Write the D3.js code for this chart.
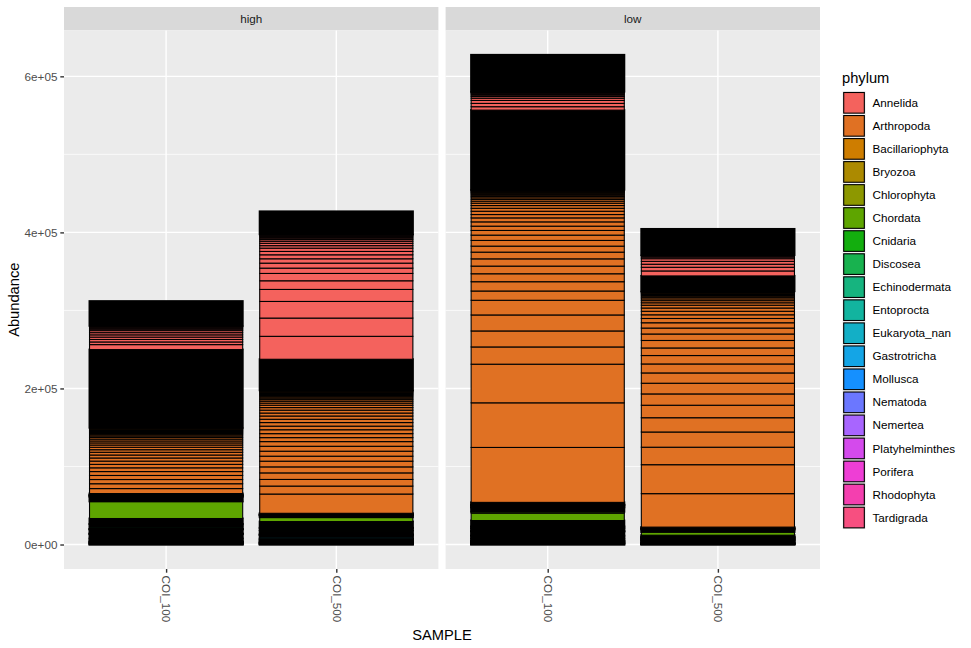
<!DOCTYPE html>
<html><head><meta charset="utf-8">
<script src="https://cdn.jsdelivr.net/npm/d3@7"></script>
<style>body{margin:0;background:#fff} text{font-family:"Liberation Sans",Arial,Helvetica,sans-serif}</style>
</head><body><svg id="c" width="971" height="648"></svg>
<script>
// ---------------- data ----------------
const phyla = ["Annelida","Arthropoda","Bacillariophyta","Bryozoa","Chlorophyta","Chordata","Cnidaria","Discosea","Echinodermata","Entoprocta","Eukaryota_nan","Gastrotricha","Mollusca","Nematoda","Nemertea","Platyhelminthes","Porifera","Rhodophyta","Tardigrada"];
const phylumColors = ["#F4625D","#E07123","#CE7D00","#AC8A00","#8D9800","#5EA500","#13AE0E","#18B24F","#16B47F","#12B49F","#13AFC6","#14A5E6","#1590FF","#6B77FF","#A865FF","#D44AEC","#EE3ED5","#F43FAF","#F74F80"];
const facets = ["high","low"];
const samples = ["COI_100","COI_500"];
const yTicks = [0, 200000, 400000, 600000];
const yTickLabels = ["0e+00","2e+05","4e+05","6e+05"];
const yMinorTicks = [100000, 300000, 500000];

// individual OTU abundances that are large enough to be seen (largest first)
const otus_high_COI_100 = {
  Annelida: [6400,3400,3200,3000,2900,2800,2600,1800,1500,1200,1000,800],
  Arthropoda: [6400,6200,5400,5200,5000,4800,4400,4200,4000,3800,3500,3300,3100,2900,2700,2500,2300,2100,1900,1700,1500,1300,1200,1100,1000,900,800,700,600],
  Chordata: [22000],
  Discosea: [1400,1100]
};
// summed abundance of the many tiny OTUs of each phylum (their black outlines merge into solid black)
const minor_high_COI_100 = {Annelida:31500, Arthropoda:100000, Bacillariophyta:2000, Bryozoa:500, Chlorophyta:1500, Chordata:6000, Cnidaria:7000, Discosea:1500, Echinodermata:2500, Entoprocta:300, Eukaryota_nan:5600, Gastrotricha:300, Mollusca:6000, Nematoda:3500, Nemertea:800, Platyhelminthes:1500, Porifera:400, Rhodophyta:1200, Tardigrada:200};

const otus_high_COI_500 = {
  Annelida: [29400,23400,21300,15400,11100,9400,6800,6400,5600,5100,4300,4200,3200,3000,2600,2200,1800,1500,1200,1000,800,600],
  Arthropoda: [24700,10200,8500,8400,7700,7300,6400,6400,6300,6000,5100,5100,5000,4600,4600,4200,4200,3800,3700,3300,3000,2700,2400,2100,1900,1700,1500,1300,1100,1000,900,800,700,600,500],
  Chordata: [5600],
  Discosea: [1500],
  Eukaryota_nan: [1600,1300]
};
const minor_high_COI_500 = {Annelida:29200, Arthropoda:39700, Bacillariophyta:1500, Bryozoa:300, Chlorophyta:1000, Chordata:2200, Cnidaria:8100, Discosea:2500, Echinodermata:4500, Entoprocta:400, Eukaryota_nan:1500, Gastrotricha:200, Mollusca:2000, Nematoda:2500, Nemertea:600, Platyhelminthes:1200, Porifera:300, Rhodophyta:1000, Tardigrada:200};

const otus_low_COI_100 = {
  Annelida: [4400,4200,3800,2800,2200,1800,1400,1100,900,700,500],
  Arthropoda: [70400,57200,49500,22100,20500,20500,18800,11900,11900,10200,9800,9300,8600,7700,7300,6800,6000,5500,5500,5100,4300,4200,3800,3500,3000,2600,2300,2000,1800,1600,1400,1200,1000,900,800,700,600,500],
  Chordata: [9500,1900],
  Eukaryota_nan: [1300,1100]
};
const minor_low_COI_100 = {Annelida:47000, Arthropoda:101900, Bacillariophyta:3000, Bryozoa:800, Chlorophyta:2500, Chordata:5600, Cnidaria:7600, Discosea:2500, Echinodermata:3500, Entoprocta:300, Eukaryota_nan:3000, Gastrotricha:200, Mollusca:3500, Nematoda:3000, Nemertea:700, Platyhelminthes:2000, Porifera:300, Rhodophyta:1500, Tardigrada:200};

const otus_low_COI_500 = {
  Annelida: [6400,4700,3900,3700,3400,2000,1300,900,600],
  Arthropoda: [42900,37100,22400,19500,18300,16000,14500,13700,13200,11500,10800,9700,9600,8300,7600,6800,5500,4700,4500,4200,3600,3100,2700,2300,2000,1700,1400,1200,1000,800,700,600,500],
  Chordata: [4300]
};
const minor_low_COI_500 = {Annelida:33300, Arthropoda:19500, Bacillariophyta:1500, Bryozoa:300, Chlorophyta:1300, Chordata:3000, Cnidaria:2000, Discosea:800, Echinodermata:1400, Entoprocta:200, Eukaryota_nan:2000, Gastrotricha:100, Mollusca:1800, Nematoda:1500, Nemertea:300, Platyhelminthes:900, Porifera:200, Rhodophyta:600, Tardigrada:100};

const otuTable = {high:{COI_100:otus_high_COI_100, COI_500:otus_high_COI_500}, low:{COI_100:otus_low_COI_100, COI_500:otus_low_COI_500}};
const minorTable = {high:{COI_100:minor_high_COI_100, COI_500:minor_high_COI_500}, low:{COI_100:minor_low_COI_100, COI_500:minor_low_COI_500}};

const color = d3.scaleOrdinal().domain(phyla).range(phylumColors);

// ---------------- stacking ----------------
function buildStack(vis, minor) {
  const rows = []; let y0 = 0;
  phyla.slice().reverse().forEach(p => {
    (vis[p] || []).forEach(v => { rows.push({p, y0, y1: y0 + v, minor: false}); y0 += v; });
    if (minor[p]) { rows.push({p, y0, y1: y0 + minor[p], minor: true}); y0 += minor[p]; }
  });
  return {rows, total: y0};
}
const stacks = {};
facets.forEach(f => { stacks[f] = {}; samples.forEach(s => { stacks[f][s] = buildStack(otuTable[f][s], minorTable[f][s]); }); });
const maxTotal = d3.max(facets.flatMap(f => samples.map(s => stacks[f][s].total)));

// ---------------- layout ----------------
const svg = d3.select("#c");
svg.append("rect").attr("width", 971).attr("height", 648).attr("fill", "#fff");
const panelTop = 30.4, panelBottom = 569, panelW = 374.4, panelLefts = [64, 445.6];
const stripTop = 7, stripH = 23.4;
const y = d3.scaleLinear().domain([-0.05 * maxTotal, 1.05 * maxTotal]).range([panelBottom, panelTop]);

facets.forEach((f, fi) => {
  const left = panelLefts[fi];
  const g = svg.append("g").attr("transform", `translate(${left},0)`);
  const x = d3.scalePoint().domain(samples).range([0, panelW]).padding(0.6);
  const bw = x.step() * 0.9;
  g.append("rect").attr("x", 0).attr("y", stripTop).attr("width", panelW).attr("height", stripH).attr("fill", "#D9D9D9");
  g.append("text").attr("x", panelW / 2).attr("y", stripTop + stripH / 2).attr("dy", "0.35em")
    .attr("text-anchor", "middle").attr("font-size", "11.7px").attr("fill", "#1A1A1A").text(f);
  g.append("rect").attr("x", 0).attr("y", panelTop).attr("width", panelW).attr("height", panelBottom - panelTop).attr("fill", "#EBEBEB");
  g.selectAll(".mn").data(yMinorTicks).join("line").attr("x1", 0).attr("x2", panelW)
    .attr("y1", d => y(d)).attr("y2", d => y(d)).attr("stroke", "#fff").attr("stroke-width", 0.7);
  g.selectAll(".mj").data(yTicks).join("line").attr("x1", 0).attr("x2", panelW)
    .attr("y1", d => y(d)).attr("y2", d => y(d)).attr("stroke", "#fff").attr("stroke-width", 1.4);
  g.selectAll(".vx").data(samples).join("line").attr("x1", d => x(d)).attr("x2", d => x(d))
    .attr("y1", panelTop).attr("y2", panelBottom).attr("stroke", "#fff").attr("stroke-width", 1.4);
  samples.forEach(s => {
    const rows = stacks[f][s].rows;
    g.append("g").selectAll("rect").data(rows).join("rect")
      .attr("x", x(s) - bw / 2).attr("width", bw)
      .attr("y", d => y(d.y1)).attr("height", d => y(d.y0) - y(d.y1))
      .attr("fill", d => d.minor ? "#000" : color(d.p))
      .attr("stroke", "#000").attr("stroke-width", d => d.minor ? 2 : 1.1);
  });
  const ax = g.append("g").attr("transform", `translate(0,${panelBottom})`)
    .call(d3.axisBottom(x).tickSize(3.7).tickPadding(2.9));
  ax.select(".domain").remove();
  ax.selectAll(".tick line").attr("stroke", "#333333").attr("stroke-width", 1.4);
  ax.selectAll(".tick text").attr("transform", "rotate(90)").attr("x", 6.6).attr("y", 0).attr("dy", "0.35em")
    .attr("text-anchor", "start").attr("font-size", "11.7px").attr("fill", "#4D4D4D")
    .attr("font-family", '"Liberation Sans",Arial,sans-serif');
});

const ay = svg.append("g").attr("transform", `translate(${panelLefts[0]},0)`)
  .call(d3.axisLeft(y).tickValues(yTicks).tickFormat((d, i) => yTickLabels[i]).tickSize(3.7).tickPadding(2.9));
ay.select(".domain").remove();
ay.selectAll(".tick line").attr("stroke", "#333333").attr("stroke-width", 1.4);
ay.selectAll(".tick text").attr("font-size", "11.7px").attr("fill", "#4D4D4D").attr("dy", "0.35em")
  .attr("font-family", '"Liberation Sans",Arial,sans-serif');

svg.append("text").attr("x", 442).attr("y", 640).attr("text-anchor", "middle").attr("font-size", "14.7px").attr("fill", "#000").text("SAMPLE");
svg.append("text").attr("transform", "translate(19,299.7) rotate(-90)").attr("text-anchor", "middle").attr("font-size", "14.7px").attr("fill", "#000").text("Abundance");

const lg = svg.append("g").attr("transform", "translate(842,0)");
lg.append("text").attr("x", 0).attr("y", 83).attr("font-size", "14.7px").attr("fill", "#000").text("phylum");
const keyTop = 91.3, keyStep = 23.04;
phyla.forEach((p, i) => {
  const ty = keyTop + i * keyStep;
  lg.append("rect").attr("x", 0.5).attr("y", ty).attr("width", keyStep).attr("height", keyStep).attr("fill", "#EBEBEB");
  lg.append("rect").attr("x", 1.7).attr("y", ty + 1.2).attr("width", keyStep - 2.4).attr("height", keyStep - 2.4)
    .attr("fill", color(p)).attr("stroke", "#000").attr("stroke-width", 1.1);
  lg.append("text").attr("x", 30.5).attr("y", ty + keyStep / 2).attr("dy", "0.35em").attr("font-size", "11.7px").attr("fill", "#000").text(p);
});
</script></body></html>
